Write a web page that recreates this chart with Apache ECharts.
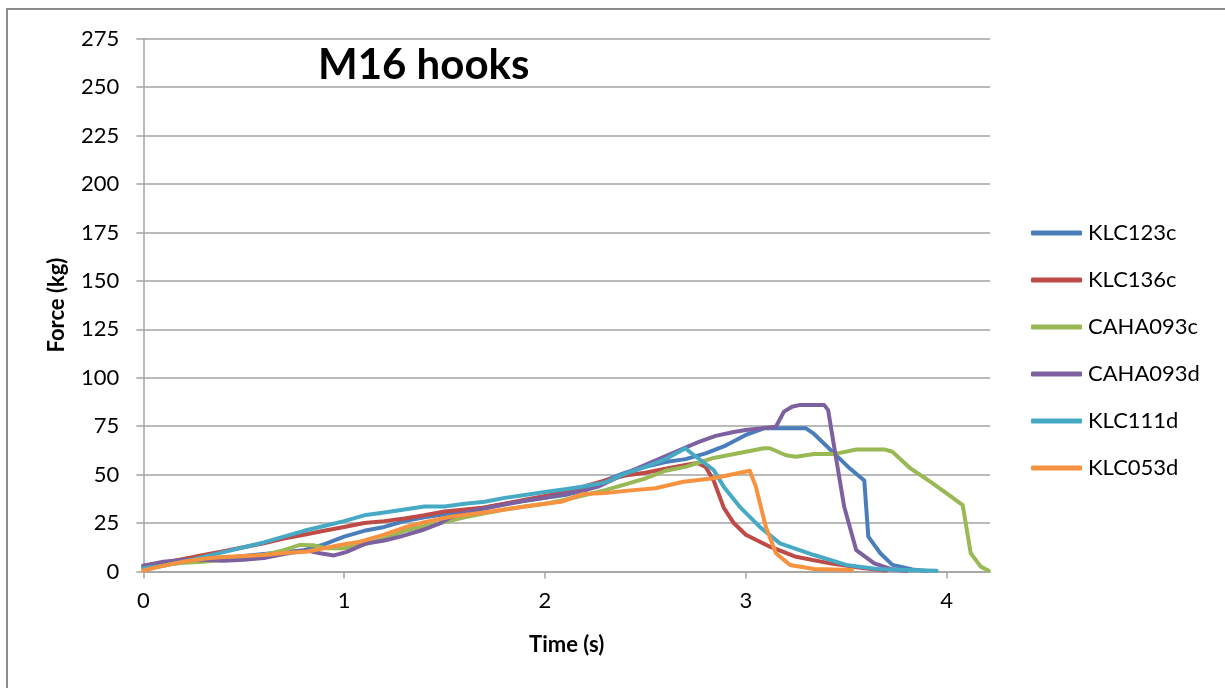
<!DOCTYPE html>
<html>
<head>
<meta charset="utf-8">
<script src="https://cdn.jsdelivr.net/npm/echarts@6/dist/echarts.min.js"></script>
<style>
  html, body { margin: 0; padding: 0; background: #ffffff; }
  #chart { width: 1225px; height: 688px; }
</style>
</head>
<body>
<div id="chart"></div>
<script>
// ---- Data (time in s, force in kg) ----
const seriesNames = ['KLC123c', 'KLC136c', 'CAHA093c', 'CAHA093d', 'KLC111d', 'KLC053d'];
const xTicks = [0, 1, 2, 3, 4];
const yTicks = [0, 25, 50, 75, 100, 125, 150, 175, 200, 225, 250, 275];

const klc123c = [[0,2],[0.1,3.5],[0.2,5],[0.3,6],[0.4,7],[0.5,8],[0.6,9],[0.7,10],[0.8,11],[0.9,14],[1.0,18],[1.1,21],[1.2,23],[1.3,26],[1.4,28],[1.5,29.5],[1.6,31],[1.7,33],[1.8,35],[1.9,36.5],[2.0,38],[2.1,39.5],[2.2,42],[2.3,47],[2.4,51],[2.5,54],[2.6,56.5],[2.7,58],[2.8,61],[2.9,65],[3.0,70.5],[3.09,73.9],[3.3,73.9],[3.34,71],[3.44,61],[3.52,53],[3.59,47],[3.61,18],[3.67,9.4],[3.73,3.4],[3.83,1.1],[3.9,0.3]];
const klc136c = [[0,3],[0.1,4.5],[0.2,6.5],[0.3,8.5],[0.4,10.5],[0.5,12.5],[0.6,14.5],[0.7,17],[0.8,19],[0.9,21],[1.0,23],[1.1,25],[1.2,26],[1.3,27.4],[1.4,29],[1.5,31],[1.6,32],[1.7,33],[1.8,35],[1.9,37],[2.0,39],[2.1,41],[2.2,44],[2.3,47],[2.4,49.5],[2.5,51],[2.6,53],[2.7,55],[2.76,56],[2.8,54],[2.84,47],[2.89,33],[2.94,25],[3.0,19],[3.12,12.8],[3.25,7.6],[3.42,4.2],[3.58,1.8],[3.7,0.5]];
const caha093c = [[0,2],[0.1,3.5],[0.2,4.5],[0.3,5],[0.4,6],[0.5,7],[0.6,8.5],[0.7,11],[0.78,13.7],[0.85,13.5],[0.91,12],[1.0,12],[1.1,14],[1.2,17],[1.3,21],[1.4,23.5],[1.5,25.5],[1.6,28],[1.7,30],[1.8,32],[1.9,33.5],[2.0,35],[2.1,37],[2.2,39.5],[2.3,42],[2.4,45],[2.5,48],[2.6,52],[2.7,54],[2.84,58.6],[3.0,61.8],[3.09,63.6],[3.12,63.6],[3.2,60],[3.25,59.2],[3.34,60.6],[3.44,60.6],[3.55,63],[3.69,63],[3.73,61.8],[3.82,53.2],[3.92,46.3],[4.0,40.3],[4.08,34.3],[4.12,9.4],[4.17,2.5],[4.21,0.4]];
const caha093d = [[0,3],[0.1,5],[0.2,6],[0.3,6],[0.4,5.5],[0.5,6],[0.6,7],[0.7,9],[0.81,11],[0.88,9.4],[0.95,8.3],[1.01,10],[1.11,14.5],[1.2,16],[1.28,18],[1.39,21.4],[1.48,25],[1.53,28],[1.6,30.5],[1.7,32.5],[1.8,34.5],[1.9,36.5],[2.0,38],[2.1,40],[2.2,42],[2.27,44],[2.35,48],[2.44,52.4],[2.52,56],[2.61,60],[2.7,64],[2.77,67],[2.85,70],[2.94,72],[3.0,73],[3.15,74.7],[3.19,82.5],[3.23,85],[3.27,86],[3.39,86],[3.41,83.3],[3.44,64.4],[3.49,33.4],[3.55,11],[3.64,4.2],[3.72,1.3],[3.8,0.3]];
const klc111d = [[0,1.7],[0.1,3],[0.2,5],[0.3,7.5],[0.4,10],[0.5,12.5],[0.6,15],[0.7,18],[0.8,21],[0.9,23.5],[1.0,26],[1.1,29],[1.2,30.5],[1.3,32],[1.4,33.5],[1.5,33.5],[1.6,35],[1.7,36],[1.8,38],[1.9,39.5],[2.0,41],[2.1,42.5],[2.2,44],[2.3,46],[2.4,50.5],[2.5,54],[2.6,58],[2.7,63.6],[2.72,61.8],[2.84,52.4],[2.89,43.8],[2.97,33.4],[3.07,23],[3.17,14.5],[3.34,8.5],[3.5,3.4],[3.67,1.1],[3.95,0.4]];
const klc053d = [[0,0.5],[0.1,3],[0.2,5],[0.32,6.8],[0.4,7.5],[0.5,8],[0.6,8.5],[0.7,9.5],[0.81,10.2],[0.9,12],[0.98,13.7],[1.08,15.4],[1.2,19],[1.31,23],[1.4,25.5],[1.53,28.3],[1.7,30.5],[1.8,32],[1.9,33.5],[2.0,35],[2.08,36],[2.19,40],[2.3,40.5],[2.44,42],[2.55,43],[2.69,46.3],[2.84,48.1],[3.02,52],[3.05,43.8],[3.10,23],[3.15,9.4],[3.22,3.4],[3.34,1.3],[3.53,0.8]];

const seriesData = [klc123c, klc136c, caha093c, caha093d, klc111d, klc053d];
const seriesColors = ['#4A7EBB', '#BE4B48', '#98B954', '#7D60A0', '#46AAC5', '#F69240'];

const FONT = 'Lato, "Open Sans", sans-serif';
const chart = echarts.init(document.getElementById('chart'), null, { renderer: 'canvas' });

const option = {
  backgroundColor: '#ffffff',
  animation: false,
  color: seriesColors,
  title: {
    text: 'M16 hooks',
    left: 313,
    top: 39,
    textStyle: { fontFamily: FONT, fontSize: 42, fontWeight: 'bold', color: '#000' }
  },
  graphic: [{
    type: 'rect',
    shape: { x: 7, y: 9, width: 1300, height: 760 },
    style: { fill: 'none', stroke: '#8c8c8c', lineWidth: 2 },
    silent: true
  }],
  legend: {
    orient: 'vertical',
    left: 1026,
    top: 217,
    itemWidth: 51,
    itemHeight: 5,
    itemGap: 25,
    icon: 'roundRect',
    textStyle: { fontFamily: FONT, fontSize: 22, color: '#000', padding: [0, 0, 0, 1] },
    data: seriesNames
  },
  grid: { left: 143.3, top: 38.7, right: 235, bottom: 116.5, containLabel: false },
  xAxis: {
    type: 'value',
    min: 0,
    max: 4.216,
    name: 'Time (s)',
    nameLocation: 'middle',
    nameGap: 62,
    nameTextStyle: { fontFamily: FONT, fontSize: 22, fontWeight: 'bold', color: '#000' },
    axisLine: { show: true, lineStyle: { color: '#a3a3a3', width: 1.5 } },
    axisTick: { show: true, length: 7, lineStyle: { color: '#a3a3a3', width: 1.5 }, customValues: xTicks },
    axisLabel: { fontFamily: FONT, fontSize: 22, color: '#000', margin: 18, customValues: xTicks },
    splitLine: { show: false }
  },
  yAxis: {
    type: 'value',
    min: 0,
    max: 275,
    interval: 25,
    name: 'Force (kg)',
    nameLocation: 'middle',
    nameGap: 75,
    nameRotate: 90,
    nameTextStyle: { fontFamily: FONT, fontSize: 22, fontWeight: 'bold', color: '#000' },
    axisLine: { show: true, lineStyle: { color: '#a3a3a3', width: 1.5 } },
    axisTick: { show: true, length: 7, lineStyle: { color: '#a3a3a3', width: 1.5 } },
    axisLabel: { fontFamily: FONT, fontSize: 22, color: '#000', margin: 24, customValues: yTicks },
    splitLine: { show: true, lineStyle: { color: '#a3a3a3', width: 1.5 } }
  },
  series: seriesNames.map((name, i) => ({
    name: name,
    type: 'line',
    data: seriesData[i],
    showSymbol: false,
    symbol: 'none',
    smooth: false,
    lineStyle: { width: 4, color: seriesColors[i], cap: 'round', join: 'round' },
    itemStyle: { color: seriesColors[i] },
    z: 2 + i
  }))
};
chart.setOption(option);
</script>
</body>
</html>
